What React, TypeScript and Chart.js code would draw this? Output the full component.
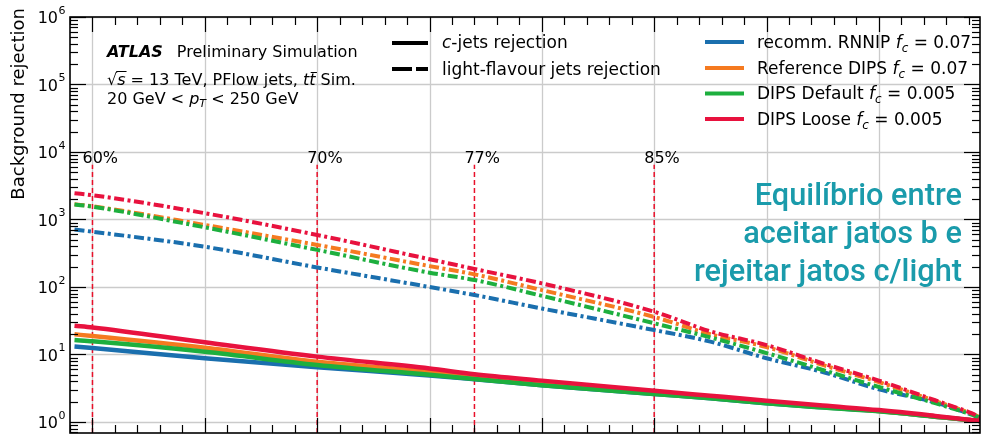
import { useEffect, useRef } from 'react';
import { Chart, registerables } from 'chart.js';
Chart.register(...registerables);

// b-jet efficiency grid
const efficiency = [0.592, 0.6, 0.65, 0.7, 0.75, 0.77, 0.8, 0.85, 0.875, 0.9, 0.925, 0.95, 0.975, 0.99, 1.0];

// c-jet rejection
const cRejRNNIP = [13.1, 12.5, 8.8, 6.45, 4.9, 4.3, 3.5, 2.6, 2.25, 1.9, 1.65, 1.45, 1.2, 1.07, 1.0];
const cRejRefDIPS = [19.9, 18.8, 12.6, 7.8, 5.5, 4.5, 3.6, 2.65, 2.3, 1.95, 1.68, 1.45, 1.2, 1.07, 1.0];
const cRejDefault = [16.4, 15.7, 11.0, 7.0, 5.0, 4.35, 3.5, 2.6, 2.25, 1.89, 1.64, 1.44, 1.2, 1.07, 1.0];
const cRejLoose = [26.7, 25.2, 15.2, 9.3, 6.2, 5.1, 4.1, 2.9, 2.45, 2.07, 1.75, 1.5, 1.23, 1.08, 1.0];

// light-flavour jet rejection
const lRejRNNIP = [710, 660, 395, 195, 100, 76, 48, 23, 15.5, 8.8, 5.5, 3.05, 1.95, 1.33, 1.0];
const lRejRefDIPS = [1680, 1570, 830, 420, 204, 154, 90, 36, 20, 12.9, 7.0, 3.9, 2.05, 1.38, 1.0];
const lRejDefault = [1670, 1550, 765, 355, 163, 127, 74, 29, 17.9, 10.5, 5.9, 3.3, 1.9, 1.33, 1.0];
const lRejLoose = [2450, 2290, 1240, 590, 258, 185, 113, 43, 22, 13.8, 7.4, 4.1, 2.1, 1.4, 1.0];

const taggerNames = ['recomm. RNNIP', 'Reference DIPS', 'DIPS Default', 'DIPS Loose'];
const taggerFc = ['0.07', '0.07', '0.005', '0.005'];

const wpValues = [0.6, 0.7, 0.77, 0.85];
const wpLabels = ['60%', '70%', '77%', '85%'];
const yDecades = [0, 1, 2, 3, 4, 5, 6];
const xMajorTicks = [0.6, 0.65, 0.7, 0.75, 0.8, 0.85, 0.9, 0.95];

const annotationLines = ['Equilíbrio entre', 'aceitar jatos b e', 'rejeitar jatos c/light'];

const COLORS = ['#1a6fae', '#f57a20', '#1daf3e', '#e8123e'];
const DF = '"DejaVu Sans"';
const f = (size: number, style = '') => `${style} ${size}px ${DF}`.trim();

type Seg = { t: string; font: string; dy?: number };
function rich(ctx: CanvasRenderingContext2D, x: number, y: number, segs: Seg[]) {
  let cx = x;
  for (const s of segs) {
    ctx.font = s.font;
    ctx.fillText(s.t, cx, y + (s.dy || 0));
    cx += ctx.measureText(s.t).width;
  }
  return cx;
}

const decorPlugin = {
  id: 'decor',
  beforeDatasetsDraw(chart: any) {
    const { ctx, chartArea: a, scales } = chart;
    const xs = scales.x, ys = scales.y;
    ctx.save();
    ctx.strokeStyle = '#cbcbcb';
    ctx.lineWidth = 1.3;
    for (const v of xMajorTicks) {
      const px = Math.round(xs.getPixelForValue(v)) + 0.5;
      ctx.beginPath(); ctx.moveTo(px, a.top); ctx.lineTo(px, a.bottom); ctx.stroke();
    }
    for (const d of yDecades) {
      const py = Math.round(ys.getPixelForValue(Math.pow(10, d))) + 0.5;
      ctx.beginPath(); ctx.moveTo(a.left, py); ctx.lineTo(a.right, py); ctx.stroke();
    }
    // working point lines
    ctx.strokeStyle = '#e8102a';
    ctx.lineWidth = 1.5;
    ctx.setLineDash([5, 3]);
    ctx.fillStyle = '#000';
    ctx.textBaseline = 'alphabetic';
    ctx.font = f(16);
    wpValues.forEach((v, i) => {
      const px = xs.getPixelForValue(v);
      const top = ys.getPixelForValue(6500);
      ctx.beginPath(); ctx.moveTo(px, a.bottom); ctx.lineTo(px, top); ctx.stroke();
      ctx.fillText(wpLabels[i], px - 10, 163);
    });
    ctx.restore();
  },
  afterDraw(chart: any) {
    const { ctx, chartArea: a, scales } = chart;
    const xs = scales.x, ys = scales.y;
    ctx.save();
    // ticks
    ctx.strokeStyle = '#000';
    ctx.lineWidth = 1.2;
    const tick = (x1: number, y1: number, x2: number, y2: number) => {
      ctx.beginPath(); ctx.moveTo(x1, y1); ctx.lineTo(x2, y2); ctx.stroke();
    };
    for (let k = 59; k <= 99; k++) {
      const v = k / 100;
      if (v < xs.min || v > xs.max) continue;
      const major = k % 5 === 0;
      const L = major ? 15 : 8;
      const px = Math.round(xs.getPixelForValue(v)) + 0.5;
      tick(px, a.top, px, a.top + L);
      tick(px, a.bottom, px, a.bottom - L);
    }
    for (let d = -1; d <= 6; d++) {
      for (let m = 1; m <= 9; m++) {
        const v = m * Math.pow(10, d);
        if (v < ys.min || v > ys.max) continue;
        const L = m === 1 ? 16 : 8;
        const py = Math.round(ys.getPixelForValue(v)) + 0.5;
        tick(a.left, py, a.left + L, py);
        tick(a.right, py, a.right - L, py);
      }
    }
    // frame
    ctx.lineWidth = 1.6;
    ctx.strokeRect(a.left, a.top, a.right - a.left, a.bottom - a.top);

    // y tick labels
    ctx.fillStyle = '#000';
    ctx.textBaseline = 'middle';
    for (const d of yDecades) {
      const py = ys.getPixelForValue(Math.pow(10, d));
      ctx.font = f(16);
      const w10 = ctx.measureText('10').width;
      ctx.font = f(11);
      const we = ctx.measureText(String(d)).width;
      const x0 = 65 - w10 - we;
      ctx.font = f(16);
      ctx.fillText('10', x0, py + 2);
      ctx.font = f(11);
      ctx.fillText(String(d), x0 + w10 + 0.5, py - 6);
    }
    // y title
    ctx.save();
    ctx.translate(19, 8);
    ctx.rotate(-Math.PI / 2);
    ctx.textAlign = 'right';
    ctx.textBaseline = 'middle';
    ctx.font = f(18);
    ctx.fillText('Background rejection', 0, 0);
    ctx.restore();

    // ATLAS label
    ctx.textBaseline = 'alphabetic';
    ctx.textAlign = 'left';
    let x = rich(ctx, 107, 57, [{ t: 'ATLAS', font: f(16, 'italic bold') }]);
    rich(ctx, x + 14, 57, [{ t: 'Preliminary Simulation', font: f(16) }]);
    // line 2
    ctx.font = f(16);
    const sqrtW = ctx.measureText('√').width;
    ctx.fillText('√', 107, 85);
    ctx.font = f(16, 'italic');
    const sW = ctx.measureText('s').width;
    ctx.fillText('s', 107 + sqrtW, 85);
    ctx.lineWidth = 1;
    ctx.beginPath(); ctx.moveTo(107 + sqrtW - 1, 71.5); ctx.lineTo(107 + sqrtW + sW + 1, 71.5); ctx.stroke();
    x = rich(ctx, 107 + sqrtW + sW, 85, [
      { t: ' = 13 TeV, PFlow jets, ', font: f(16) },
      { t: 't', font: f(16, 'italic') },
    ]);
    ctx.font = f(16, 'italic');
    const tW = ctx.measureText('t').width;
    ctx.fillText('t', x, 85);
    ctx.beginPath(); ctx.moveTo(x + 1.5, 72.5); ctx.lineTo(x + tW + 1.5, 72.5); ctx.stroke();
    rich(ctx, x + tW, 85, [{ t: ' Sim.', font: f(16) }]);
    // line 3
    rich(ctx, 107, 104, [
      { t: '20 GeV < ', font: f(16) },
      { t: 'p', font: f(16, 'italic') },
      { t: 'T', font: f(11, 'italic'), dy: 3 },
      { t: ' < 250 GeV', font: f(16) },
    ]);

    // legend 1 (line styles)
    ctx.strokeStyle = '#000';
    ctx.lineWidth = 4;
    ctx.beginPath(); ctx.moveTo(392, 43); ctx.lineTo(428, 43); ctx.stroke();
    ctx.setLineDash([20, 4]);
    ctx.beginPath(); ctx.moveTo(392, 69); ctx.lineTo(428, 69); ctx.stroke();
    ctx.setLineDash([]);
    rich(ctx, 442, 48, [
      { t: 'c', font: f(17, 'italic') },
      { t: '-jets rejection', font: f(17) },
    ]);
    rich(ctx, 442, 74.5, [{ t: 'light-flavour jets rejection', font: f(17) }]);

    // legend 2 (taggers)
    const ly = [42, 68, 93.5, 119];
    taggerNames.forEach((name, i) => {
      ctx.strokeStyle = COLORS[i];
      ctx.lineWidth = 4;
      ctx.beginPath(); ctx.moveTo(705, ly[i]); ctx.lineTo(744, ly[i]); ctx.stroke();
      rich(ctx, 757, ly[i] + 5.5, [
        { t: name + ' ', font: f(17) },
        { t: 'f', font: f(17, 'italic') },
        { t: 'c', font: f(12, 'italic'), dy: 4 },
        { t: ' = ' + taggerFc[i], font: f(17) },
      ]);
    });

    // annotation
    ctx.fillStyle = '#1a9bab';
    ctx.font = '500 32px Roboto';
    const w3 = ctx.measureText(annotationLines[2]).width;
    const sx = 268 / w3;
    const baselines = [205, 243, 281];
    annotationLines.forEach((t, i) => {
      ctx.save();
      ctx.translate(962, baselines[i]);
      ctx.scale(sx, 1);
      ctx.textAlign = 'right';
      ctx.fillText(t, 0, 0);
      ctx.restore();
    });
    ctx.restore();
  },
};

export default function App() {
  const ref = useRef<HTMLCanvasElement>(null);
  useEffect(() => {
    if (!ref.current) return;
    const cSets = [cRejRNNIP, cRejRefDIPS, cRejDefault, cRejLoose];
    const lSets = [lRejRNNIP, lRejRefDIPS, lRejDefault, lRejLoose];
    const datasets: any[] = [];
    cSets.forEach((arr, i) => {
      datasets.push({
        label: taggerNames[i] + ' c',
        data: efficiency.map((e, j) => ({ x: e, y: arr[j] })),
        borderColor: COLORS[i],
        borderWidth: 4.5,
        pointRadius: 0,
        fill: false,
        cubicInterpolationMode: 'monotone',
        order: 3 - i,
      });
    });
    lSets.forEach((arr, i) => {
      datasets.push({
        label: taggerNames[i] + ' light',
        data: efficiency.map((e, j) => ({ x: e, y: arr[j] })),
        borderColor: COLORS[i],
        borderWidth: 4,
        borderDash: [10, 3.5, 3, 3.5],
        pointRadius: 0,
        fill: false,
        cubicInterpolationMode: 'monotone',
        order: 3 - i,
      });
    });
    const chart = new Chart(ref.current, {
      type: 'line',
      data: { datasets },
      options: {
        animation: false,
        responsive: false,
        devicePixelRatio: 1,
        layout: { padding: { left: 70, right: 6, top: 17, bottom: 1 } },
        plugins: { legend: { display: false }, tooltip: { enabled: false } },
        scales: {
          x: { type: 'linear', min: 0.59, max: 0.995, display: false },
          y: { type: 'logarithmic', min: 0.687, max: 1e6, display: false },
        },
      },
      plugins: [decorPlugin],
    } as any);
    return () => chart.destroy();
  }, []);
  return (
    <div style={{ position: 'absolute', left: 0, top: 0, width: 986, height: 434, background: '#fff' }}>
      <canvas ref={ref} width={986} height={434} style={{ width: 986, height: 434 }} />
    </div>
  );
}
